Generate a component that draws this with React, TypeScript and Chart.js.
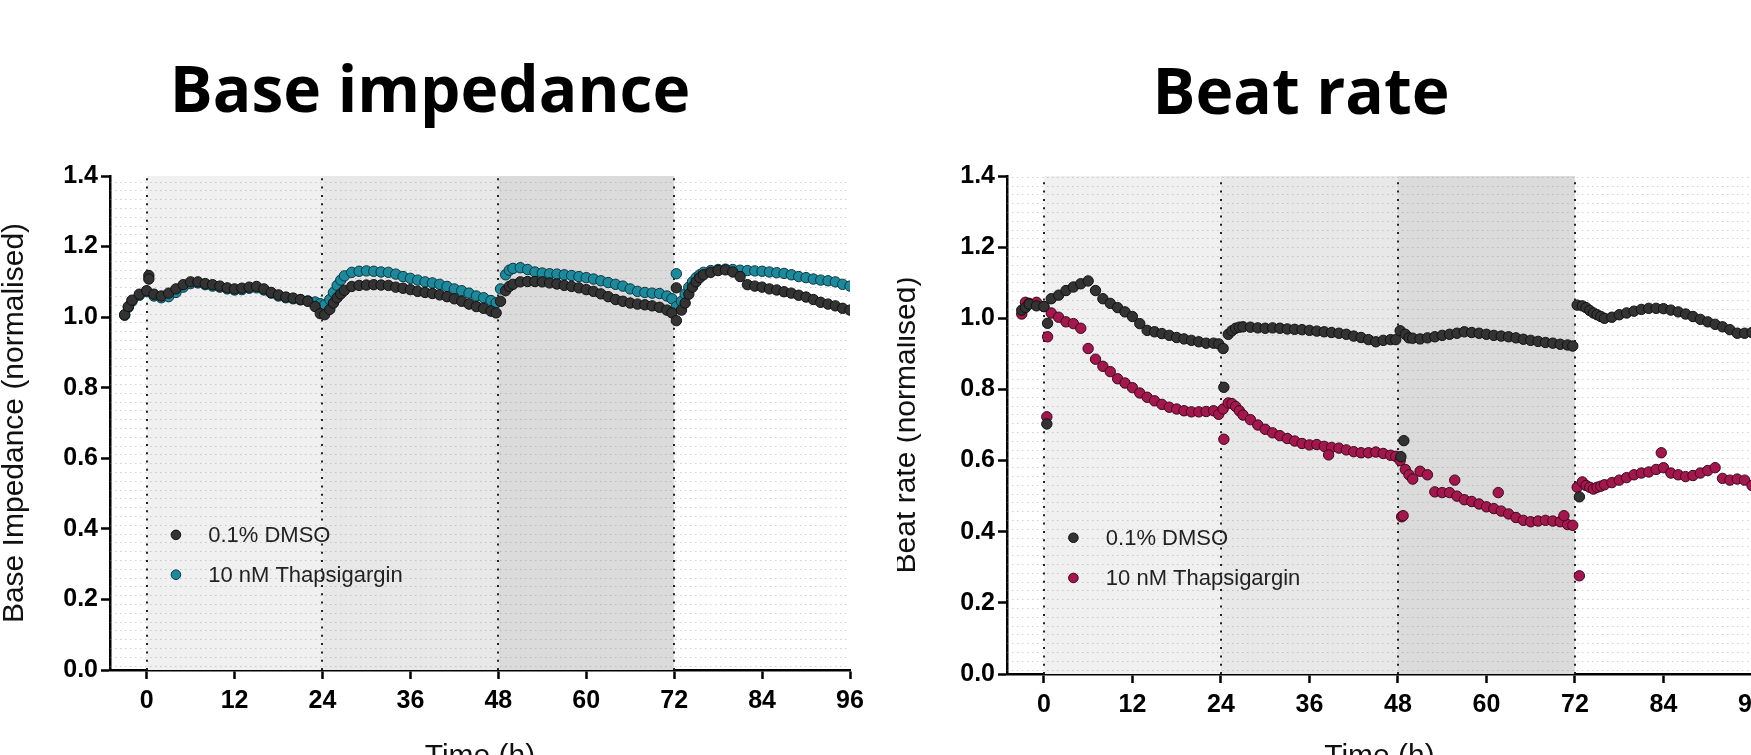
import React, { useEffect, useRef } from 'react';
import { Chart, registerables } from 'chart.js';

Chart.register(...registerables);

// ---------------- DATA ----------------
const T = [
  -3, -2.5, -2, -1, 0, 1, 2, 3, 4, 5, 6, 7, 8, 9, 10, 11, 12, 13, 14, 15, 16, 17, 18, 19, 20, 21, 22, 23, 23.7,
  24.3, 25, 25.5, 26, 26.5, 27, 28, 29, 30, 31, 32, 33, 34, 35, 36, 37, 38, 39, 40, 41, 42, 43, 44, 45, 46, 47, 47.7,
  48.3, 49, 49.5, 50, 51, 52, 53, 54, 55, 56, 57, 58, 59, 60, 61, 62, 63, 64, 65, 66, 67, 68, 69, 70, 71, 71.7,
  72.3, 73, 73.5, 74, 74.5, 75, 75.5, 76, 77, 78, 79, 80, 81, 82, 83, 84, 85, 86, 87, 88, 89, 90, 91, 92, 93, 94, 95, 96,
];

const impDmso = [
  1.007, 1.030, 1.048, 1.065, 1.075, 1.065, 1.060, 1.068, 1.080, 1.092, 1.100, 1.100, 1.095, 1.092, 1.088, 1.083, 1.080, 1.082, 1.085, 1.087, 1.080, 1.070, 1.063, 1.057, 1.054, 1.050, 1.045, 1.030, 1.010,
  1.007, 1.022, 1.040, 1.055, 1.066, 1.076, 1.087, 1.090, 1.091, 1.092, 1.091, 1.090, 1.085, 1.082, 1.078, 1.073, 1.070, 1.067, 1.063, 1.058, 1.052, 1.045, 1.037, 1.030, 1.025, 1.017, 1.012,
  1.045, 1.075, 1.087, 1.093, 1.100, 1.101, 1.101, 1.100, 1.097, 1.094, 1.090, 1.087, 1.083, 1.078, 1.073, 1.066, 1.058, 1.050, 1.045, 1.040, 1.037, 1.035, 1.032, 1.028, 1.020, 1.012,
  0.990, 1.020, 1.040, 1.065, 1.085, 1.100, 1.112, 1.120, 1.127, 1.132, 1.134, 1.128, 1.115, 1.092, 1.088, 1.085, 1.080, 1.077, 1.072, 1.068, 1.062, 1.057, 1.050, 1.042, 1.037, 1.032, 1.025, 1.020,
];
const impThap = [
  1.005, 1.028, 1.045, 1.062, 1.072, 1.060, 1.055, 1.058, 1.070, 1.085, 1.095, 1.097, 1.092, 1.088, 1.085, 1.080, 1.077, 1.078, 1.082, 1.083, 1.077, 1.068, 1.060, 1.055, 1.052, 1.049, 1.046, 1.043, 1.038,
  1.035, 1.050, 1.070, 1.090, 1.105, 1.117, 1.127, 1.130, 1.131, 1.130, 1.128, 1.127, 1.122, 1.115, 1.110, 1.105, 1.100, 1.097, 1.093, 1.087, 1.080, 1.075, 1.068, 1.060, 1.055, 1.047, 1.040,
  1.080, 1.120, 1.133, 1.138, 1.140, 1.135, 1.128, 1.125, 1.123, 1.122, 1.120, 1.118, 1.115, 1.112, 1.108, 1.103, 1.098, 1.093, 1.088, 1.080, 1.073, 1.070, 1.068, 1.067, 1.060, 1.052,
  1.030, 1.045, 1.065, 1.085, 1.100, 1.112, 1.120, 1.127, 1.132, 1.135, 1.136, 1.135, 1.133, 1.132, 1.131, 1.130, 1.128, 1.126, 1.124, 1.120, 1.115, 1.112, 1.108, 1.105, 1.103, 1.100, 1.093, 1.088,
];
const impDmsoExtraT = [0.3, 0.3, 72.3];
const impDmsoExtraV = [1.118, 1.108, 1.083];
const impThapExtraT = [72.3];
const impThapExtraV = [1.123];

const beatDmso = [
  1.023, 1.030, 1.040, 1.035, 1.033, 1.055, 1.065, 1.078, 1.088, 1.097, 1.105, 1.078, 1.055, 1.042, 1.030, 1.018, 1.005, 0.985, 0.966, 0.962, 0.957, 0.952, 0.946, 0.942, 0.938, 0.934, 0.930, 0.930, 0.928,
  0.915, 0.955, 0.965, 0.972, 0.975, 0.976, 0.975, 0.973, 0.972, 0.973, 0.972, 0.970, 0.969, 0.968, 0.966, 0.964, 0.962, 0.960, 0.958, 0.955, 0.950, 0.946, 0.940, 0.934, 0.938, 0.940, 0.940,
  0.965, 0.955, 0.945, 0.944, 0.942, 0.945, 0.948, 0.952, 0.955, 0.958, 0.962, 0.960, 0.958, 0.955, 0.952, 0.950, 0.948, 0.945, 0.941, 0.938, 0.935, 0.932, 0.930, 0.927, 0.925, 0.922,
  1.037, 1.035, 1.030, 1.022, 1.015, 1.010, 1.005, 1.000, 1.003, 1.010, 1.015, 1.020, 1.025, 1.028, 1.028, 1.027, 1.023, 1.018, 1.012, 1.005, 0.997, 0.990, 0.983, 0.976, 0.968, 0.958, 0.958, 0.960,
];
const beatThap = [
  1.012, 1.045, 1.042, 1.045, 1.033, 1.015, 1.003, 0.990, 0.985, 0.972, 0.915, 0.885, 0.865, 0.850, 0.830, 0.818, 0.805, 0.790, 0.778, 0.768, 0.758, 0.750, 0.745, 0.740, 0.737, 0.737, 0.738, 0.740, 0.730,
  0.745, 0.762, 0.760, 0.752, 0.740, 0.728, 0.715, 0.700, 0.688, 0.678, 0.670, 0.662, 0.655, 0.648, 0.644, 0.645, 0.640, 0.637, 0.635, 0.630, 0.625, 0.622, 0.622, 0.624, 0.620, 0.615, 0.612,
  0.600, 0.575, 0.560, 0.548, 0.570, 0.560, 0.512, 0.510, 0.510, 0.500, 0.490, 0.485, 0.478, 0.470, 0.465, 0.458, 0.450, 0.440, 0.432, 0.428, 0.430, 0.432, 0.430, 0.428, 0.420, 0.418,
  0.525, 0.540, 0.530, 0.525, 0.520, 0.525, 0.528, 0.532, 0.538, 0.545, 0.552, 0.560, 0.565, 0.568, 0.575, 0.580, 0.565, 0.560, 0.555, 0.558, 0.565, 0.572, 0.580, 0.550, 0.545, 0.548, 0.545, 0.530,
];
const beatDmsoExtraT = [0.4, 0.5, 24.4, 48.4, 48.8, 72.6];
const beatDmsoExtraV = [0.703, 0.986, 0.806, 0.611, 0.656, 0.498];
const beatThapExtraT = [0.4, 0.5, 24.4, 38.6, 48.5, 48.7, 55.7, 61.6, 70.5, 72.6, 83.7];
const beatThapExtraV = [0.723, 0.948, 0.660, 0.616, 0.442, 0.445, 0.545, 0.510, 0.445, 0.276, 0.622];

const xTicks = [0, 12, 24, 36, 48, 60, 72, 84, 96];
const dividers = [0, 24, 48, 72];
const bandStart = [0, 24, 48];
const bandEnd = [24, 48, 72];
const seriesLabels = ['0.1% DMSO', '10 nM Thapsigargin'];

// ---------------- STYLE ----------------
const bandColors = ['#f0f0f0', '#e8e8e8', '#dbdbdb'];
const DMSO_FILL = '#333333';
const DMSO_EDGE = '#111111';
const TEAL_FILL = '#1b8a9c';
const TEAL_EDGE = '#0b3540';
const RED_FILL = '#a3164e';
const RED_EDGE = '#3d0719';
const POINT_R = 5.2;

const pts = (t: number[], v: number[], et: number[], ev: number[]) =>
  t.map((x, i) => ({ x, y: v[i] })).concat(et.map((x, i) => ({ x, y: ev[i] })));

type Spec = {
  title: string;
  titleX: number;
  titleY: number;
  yTitle: string;
  yTitleLH: number;
  width: number;
  xAxisH: number;
  datasets: any[];
};

function makeDecor(spec: Spec) {
  return {
    id: 'decor',
    beforeDatasetsDraw(chart: any) {
      const { ctx, chartArea: a, scales } = chart;
      const x = scales.x;
      ctx.save();
      ctx.beginPath();
      ctx.rect(a.left, a.top, a.right - a.left, a.bottom - a.top);
      ctx.clip();
      bandStart.forEach((s, i) => {
        const p0 = x.getPixelForValue(s);
        const p1 = x.getPixelForValue(bandEnd[i]);
        ctx.fillStyle = bandColors[i];
        ctx.fillRect(p0, a.top, p1 - p0, a.bottom - a.top);
      });
      ctx.strokeStyle = 'rgba(140,140,140,0.4)';
      ctx.lineWidth = 1;
      ctx.setLineDash([1.5, 3.5]);
      for (let py = a.bottom - 4.4; py > a.top; py -= 8.8) {
        const yy = Math.round(py) + 0.5;
        ctx.beginPath();
        ctx.moveTo(a.left, yy);
        ctx.lineTo(a.right, yy);
        ctx.stroke();
      }
      ctx.strokeStyle = '#222';
      ctx.lineWidth = 2;
      ctx.setLineDash([2, 6.3]);
      dividers.forEach((h) => {
        const px = Math.round(x.getPixelForValue(h));
        ctx.beginPath();
        ctx.moveTo(px, a.bottom);
        ctx.lineTo(px, a.top);
        ctx.stroke();
      });
      ctx.restore();
    },
    afterDraw(chart: any) {
      const { ctx, scales } = chart;
      const x = scales.x;
      const y = scales.y;
      ctx.save();
      ctx.fillStyle = '#000';
      ctx.font = 'bold 64px "Open Sans", "DejaVu Sans", sans-serif';
      ctx.textAlign = 'center';
      ctx.textBaseline = 'alphabetic';
      ctx.fillText(spec.title, spec.titleX, spec.titleY);
      const legY = [0.383, 0.27];
      spec.datasets.forEach((ds: any, i: number) => {
        const px = x.getPixelForValue(4);
        const py = y.getPixelForValue(legY[i]);
        ctx.beginPath();
        ctx.arc(px, py, 4.8, 0, Math.PI * 2);
        ctx.fillStyle = ds.backgroundColor;
        ctx.fill();
        ctx.lineWidth = 1;
        ctx.strokeStyle = ds.borderColor;
        ctx.stroke();
        ctx.fillStyle = '#222';
        ctx.font = '22px "Liberation Sans", Arial, sans-serif';
        ctx.textAlign = 'left';
        ctx.textBaseline = 'middle';
        ctx.fillText(ds.label, x.getPixelForValue(8.4), py + 1);
      });
      ctx.restore();
    },
  };
}

function makeConfig(spec: Spec) {
  const tickFont = { family: '"Liberation Sans", Arial, sans-serif', weight: 'bold' as const, size: 25 };
  const grid = { drawOnChartArea: false, drawTicks: true, tickLength: 9, tickWidth: 2.5, tickColor: '#000' };
  return {
    type: 'scatter' as const,
    data: { datasets: spec.datasets },
    options: {
      animation: false as const,
      responsive: false,
      devicePixelRatio: 1,
      layout: { padding: { left: 0, top: 176, right: 30, bottom: 0 } },
      plugins: { legend: { display: false }, tooltip: { enabled: false }, title: { display: false } },
      elements: { point: { radius: POINT_R, borderWidth: 1, pointStyle: 'circle' } },
      scales: {
        x: {
          type: 'linear' as const,
          min: -5,
          max: 96,
          afterBuildTicks: (s: any) => {
            s.ticks = xTicks.map((v) => ({ value: v }));
          },
          afterFit: (s: any) => {
            s.height = spec.xAxisH;
          },
          grid,
          border: { display: true, color: '#000', width: 2.5 },
          ticks: { font: tickFont, color: '#000', padding: 7, maxRotation: 0, autoSkip: false },
          title: {
            display: true,
            text: 'Time (h)',
            color: '#111',
            font: { family: '"Liberation Sans", Arial, sans-serif', size: 30 },
            padding: { top: 0, bottom: 25 },
          },
        },
        y: {
          type: 'linear' as const,
          min: 0,
          max: 1.4,
          afterFit: (s: any) => {
            s.width = 110;
          },
          grid,
          border: { display: true, color: '#000', width: 2.5 },
          ticks: {
            stepSize: 0.2,
            font: tickFont,
            color: '#000',
            padding: 3,
            callback: (v: any) => Number(v).toFixed(1),
          },
          title: {
            display: true,
            text: spec.yTitle,
            color: '#111',
            font: { family: '"Liberation Sans", Arial, sans-serif', size: 30, lineHeight: spec.yTitleLH },
            padding: { top: 0, bottom: 0 },
          },
        },
      },
    },
    plugins: [makeDecor(spec)],
  };
}

function ChartBox({ spec, left, height }: { spec: Spec; left: number; height: number }) {
  const ref = useRef<HTMLCanvasElement | null>(null);
  useEffect(() => {
    if (!ref.current) return;
    const c = new Chart(ref.current, makeConfig(spec) as any);
    return () => c.destroy();
  }, []);
  return (
    <canvas
      ref={ref}
      width={spec.width}
      height={height}
      style={{ position: 'absolute', left, top: 0, width: spec.width, height }}
    />
  );
}

const impSpec: Spec = {
  title: 'Base impedance',
  titleX: 430,
  titleY: 112,
  yTitle: 'Base Impedance (normalised)',
  yTitleLH: 0.97,
  width: 880,
  xAxisH: 130,
  datasets: [
    {
      label: seriesLabels[0],
      data: pts(T, impDmso, impDmsoExtraT, impDmsoExtraV),
      backgroundColor: DMSO_FILL,
      borderColor: DMSO_EDGE,
    },
    {
      label: seriesLabels[1],
      data: pts(T, impThap, impThapExtraT, impThapExtraV),
      backgroundColor: TEAL_FILL,
      borderColor: TEAL_EDGE,
    },
  ],
};

const beatSpec: Spec = {
  title: 'Beat rate',
  titleX: 404,
  titleY: 114,
  yTitle: 'Beat rate (normalised)',
  yTitleLH: 0.68,
  width: 885,
  xAxisH: 126,
  datasets: [
    {
      label: seriesLabels[0],
      data: pts(T, beatDmso, beatDmsoExtraT, beatDmsoExtraV),
      backgroundColor: DMSO_FILL,
      borderColor: DMSO_EDGE,
    },
    {
      label: seriesLabels[1],
      data: pts(T, beatThap, beatThapExtraT, beatThapExtraV),
      backgroundColor: RED_FILL,
      borderColor: RED_EDGE,
    },
  ],
};

export default function App() {
  return (
    <div
      style={{
        position: 'absolute',
        left: 0,
        top: 0,
        width: 1751,
        height: 755,
        overflow: 'hidden',
        background: '#ffffff',
      }}
    >
      <ChartBox spec={impSpec} left={0} height={800} />
      <ChartBox spec={beatSpec} left={897} height={800} />
    </div>
  );
}
